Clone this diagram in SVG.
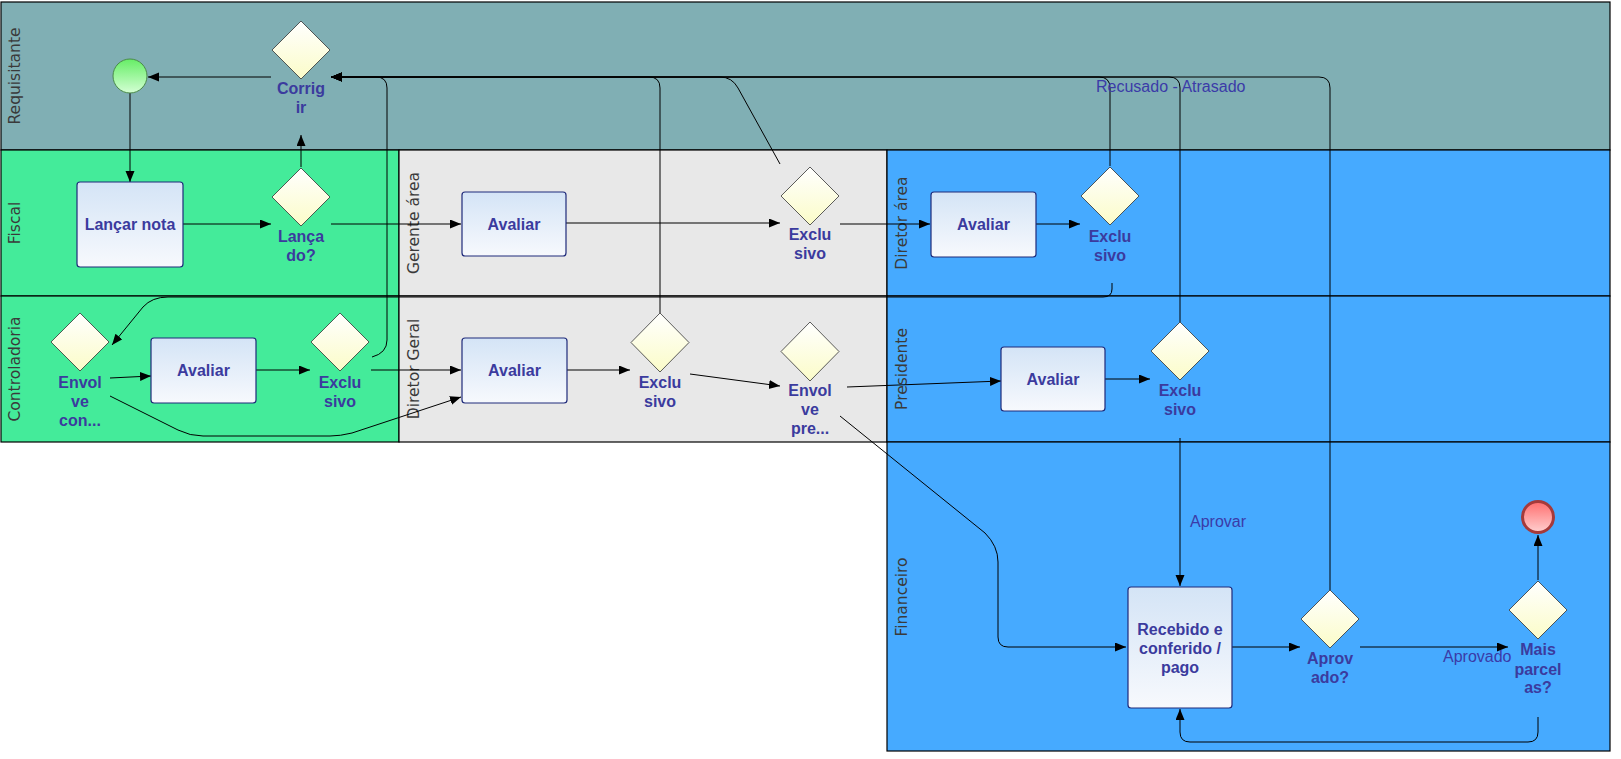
<svg xmlns="http://www.w3.org/2000/svg" width="1621" height="759" viewBox="0 0 1621 759">
  <style>
    .lane { stroke: #000; stroke-width: 1.2; }
    .lane-label { font-family: "DejaVu Sans", Verdana, sans-serif; font-size: 15.5px; fill: #3a3a3a; text-anchor: middle; }
    .task { fill: url(#taskFill); stroke: #1f2a7a; stroke-width: 1.2; }
    .gw { fill: url(#gwFill); stroke: #333; stroke-width: 0.8; }
    .node-label { font-family: "Liberation Sans", Arial, sans-serif; font-size: 16px; font-weight: bold; fill: #3b3b9e; text-anchor: middle; }
    .flow { fill: none; stroke: #000; stroke-width: 1; }
    .flow-label { font-family: "Liberation Sans", Arial, sans-serif; font-size: 16px; fill: #3b3ba8; }
  </style>
  <defs>
    <linearGradient id="taskFill" x1="0" y1="0" x2="0" y2="1">
      <stop offset="0" stop-color="#d4e4f6"/>
      <stop offset="1" stop-color="#f7f9fd"/>
    </linearGradient>
    <linearGradient id="gwFill" x1="0" y1="0" x2="0" y2="1">
      <stop offset="0" stop-color="#ffffff"/>
      <stop offset="1" stop-color="#fbfcc8"/>
    </linearGradient>
    <linearGradient id="startFill" x1="0" y1="0" x2="0" y2="1">
      <stop offset="0" stop-color="#66ee66"/>
      <stop offset="1" stop-color="#d4ffd4"/>
    </linearGradient>
    <linearGradient id="endFill" x1="0" y1="0" x2="0" y2="1">
      <stop offset="0" stop-color="#ff6e6e"/>
      <stop offset="1" stop-color="#ffd0d0"/>
    </linearGradient>
    <marker id="arrow" markerUnits="userSpaceOnUse" markerWidth="12" markerHeight="10" refX="11" refY="4.5" orient="auto">
      <path d="M0,0 L11,4.5 L0,9 z" fill="#000"/>
    </marker>
  </defs>

  <!-- swimlanes -->
  <g id="lanes">
    <g id="lane-requisitante">
      <rect class="lane" x="1" y="2" width="1609" height="148" fill="#80afb4"/>
      <text class="lane-label" transform="translate(20,76) rotate(-90)">Requisitante</text>
    </g>
    <g id="lane-fiscal">
      <rect class="lane" x="1" y="150" width="398" height="146" fill="#44eb9a"/>
      <text class="lane-label" transform="translate(20,223) rotate(-90)">Fiscal</text>
    </g>
    <g id="lane-gerente">
      <rect class="lane" x="399" y="150" width="488" height="146" fill="#e8e8e8"/>
      <text class="lane-label" transform="translate(419,223) rotate(-90)">Gerente área</text>
    </g>
    <g id="lane-diretor-area">
      <rect class="lane" x="887" y="150" width="723" height="146" fill="#46aaff"/>
      <text class="lane-label" transform="translate(907,223) rotate(-90)">Diretor área</text>
    </g>
    <g id="lane-controladoria">
      <rect class="lane" x="1" y="296" width="398" height="146" fill="#44eb9a"/>
      <text class="lane-label" transform="translate(20,369) rotate(-90)">Controladoria</text>
    </g>
    <g id="lane-diretor-geral">
      <rect class="lane" x="399" y="296" width="488" height="146" fill="#e8e8e8"/>
      <text class="lane-label" transform="translate(419,369) rotate(-90)">Diretor Geral</text>
    </g>
    <g id="lane-presidente">
      <rect class="lane" x="887" y="296" width="723" height="146" fill="#46aaff"/>
      <text class="lane-label" transform="translate(907,369) rotate(-90)">Presidente</text>
    </g>
    <g id="lane-financeiro">
      <rect class="lane" x="887" y="442" width="723" height="309" fill="#46aaff"/>
      <text class="lane-label" transform="translate(907,597) rotate(-90)">Financeiro</text>
    </g>
  </g>

  <!-- sequence flows -->
  <g id="connectors">
    <path class="flow" d="M130,93 L130,182" marker-end="url(#arrow)"/>
    <path class="flow" d="M271,77 L148,77" marker-end="url(#arrow)"/>
    <path class="flow" d="M183,224 L271,224" marker-end="url(#arrow)"/>
    <path class="flow" d="M301,167 L301,135" marker-end="url(#arrow)"/>
    <path class="flow" d="M331,224 L461,224" marker-end="url(#arrow)"/>
    <path class="flow" d="M566,223 L780,223" marker-end="url(#arrow)"/>
    <path class="flow" d="M780,164 L738,88 Q732,77 720,77 L331,77" marker-end="url(#arrow)"/>
    <path class="flow" d="M840,224 L930,224" marker-end="url(#arrow)"/>
    <path class="flow" d="M1036,224 L1080,224" marker-end="url(#arrow)"/>
    <path class="flow" d="M1110,166 L1110,88 Q1110,77 1099,77 L331,77" marker-end="url(#arrow)"/>
    <path class="flow" d="M1112,283 L1112,289 Q1112,297 1103,297 L168,297 Q152,297 143,307 L112,345" marker-end="url(#arrow)"/>
    <path class="flow" d="M110,378 L151,376" marker-end="url(#arrow)"/>
    <path class="flow" d="M110,396 L178,430 Q190,436 203,436 L330,436 Q340,436 352,433 L461,397" marker-end="url(#arrow)"/>
    <path class="flow" d="M256,370 L310,370" marker-end="url(#arrow)"/>
    <path class="flow" d="M372,357 Q387,353 387,340 L387,88 Q387,77 376,77 L331,77" marker-end="url(#arrow)"/>
    <path class="flow" d="M371,370 L461,370" marker-end="url(#arrow)"/>
    <path class="flow" d="M567,370 L630,370" marker-end="url(#arrow)"/>
    <path class="flow" d="M660,313 L660,88 Q660,77 649,77 L331,77" marker-end="url(#arrow)"/>
    <path class="flow" d="M690,374 L780,386" marker-end="url(#arrow)"/>
    <path class="flow" d="M847,387 L1001,381" marker-end="url(#arrow)"/>
    <path class="flow" d="M840,416 L985,533 Q998,546 998,562 L998,637 Q998,647 1008,647 L1126,647" marker-end="url(#arrow)"/>
    <path class="flow" d="M1105,379 L1150,379" marker-end="url(#arrow)"/>
    <path class="flow" d="M1180,322 L1180,88 Q1180,77 1169,77 L331,77" marker-end="url(#arrow)"/>
    <path class="flow" d="M1180,438 L1180,586" marker-end="url(#arrow)"/>
    <text class="flow-label" x="1190" y="527">Aprovar</text>
    <path class="flow" d="M1232,647 L1300,647" marker-end="url(#arrow)"/>
    <path class="flow" d="M1330,590 L1330,88 Q1330,77 1319,77 L331,77" marker-end="url(#arrow)"/>
    <text class="flow-label" x="1096" y="92">Recusado - Atrasado</text>
    <path class="flow" d="M1360,647 L1508,647" marker-end="url(#arrow)"/>
    <text class="flow-label" x="1443" y="662">Aprovado</text>
    <path class="flow" d="M1538,580 L1538,535" marker-end="url(#arrow)"/>
    <path class="flow" d="M1538,717 L1538,732 Q1538,742 1528,742 L1190,742 Q1180,742 1180,732 L1180,709" marker-end="url(#arrow)"/>
  </g>

  <!-- events -->
  <g id="start">
    <circle cx="130" cy="76" r="17" fill="url(#startFill)" stroke="#4a8a4a" stroke-width="1"/>
  </g>
  <g id="end">
    <circle cx="1538" cy="517" r="15.5" fill="url(#endFill)" stroke="#a63a3a" stroke-width="3"/>
  </g>

  <!-- tasks -->
  <g id="lancar-nota">
    <rect class="task" x="77" y="182" width="106" height="85" rx="3"/>
    <text class="node-label" x="130" y="230">Lançar nota</text>
  </g>
  <g id="avaliar-gerente">
    <rect class="task" x="462" y="192" width="104" height="64" rx="3"/>
    <text class="node-label" x="514" y="230">Avaliar</text>
  </g>
  <g id="avaliar-diretor-area">
    <rect class="task" x="931" y="192" width="105" height="65" rx="3"/>
    <text class="node-label" x="983.5" y="230">Avaliar</text>
  </g>
  <g id="avaliar-controladoria">
    <rect class="task" x="151" y="338" width="105" height="65" rx="3"/>
    <text class="node-label" x="203.5" y="376">Avaliar</text>
  </g>
  <g id="avaliar-diretor-geral">
    <rect class="task" x="462" y="338" width="105" height="65" rx="3"/>
    <text class="node-label" x="514.5" y="376">Avaliar</text>
  </g>
  <g id="avaliar-presidente">
    <rect class="task" x="1001" y="347" width="104" height="64" rx="3"/>
    <text class="node-label" x="1053" y="385">Avaliar</text>
  </g>
  <g id="recebido">
    <rect class="task" x="1128" y="587" width="104" height="121" rx="3"/>
    <text class="node-label" x="1180" y="635">Recebido e</text>
    <text class="node-label" x="1180" y="654">conferido /</text>
    <text class="node-label" x="1180" y="673">pago</text>
  </g>

  <!-- gateways -->
  <g id="gw-corrigir">
    <path class="gw" d="M301,21 L330,50 L301,79 L272,50 z"/>
    <text class="node-label" x="301" y="94">Corrig</text>
    <text class="node-label" x="301" y="113">ir</text>
  </g>
  <g id="gw-lancado">
    <path class="gw" d="M301,168 L330,197 L301,226 L272,197 z"/>
    <text class="node-label" x="301" y="242">Lança</text>
    <text class="node-label" x="301" y="261">do?</text>
  </g>
  <g id="gw-exclusivo-gerente">
    <path class="gw" d="M810,167 L839,196 L810,225 L781,196 z"/>
    <text class="node-label" x="810" y="240">Exclu</text>
    <text class="node-label" x="810" y="259">sivo</text>
  </g>
  <g id="gw-exclusivo-diretor-area">
    <path class="gw" d="M1110,167 L1139,196 L1110,225 L1081,196 z"/>
    <text class="node-label" x="1110" y="242">Exclu</text>
    <text class="node-label" x="1110" y="261">sivo</text>
  </g>
  <g id="gw-envolve-con">
    <path class="gw" d="M80,313 L109,342 L80,371 L51,342 z"/>
    <text class="node-label" x="80" y="388">Envol</text>
    <text class="node-label" x="80" y="407">ve</text>
    <text class="node-label" x="80" y="426">con...</text>
  </g>
  <g id="gw-exclusivo-controladoria">
    <path class="gw" d="M340,313 L369,342 L340,371 L311,342 z"/>
    <text class="node-label" x="340" y="388">Exclu</text>
    <text class="node-label" x="340" y="407">sivo</text>
  </g>
  <g id="gw-exclusivo-diretor-geral">
    <path class="gw" d="M660,313 L689,342.5 L660,372 L631,342.5 z"/>
    <text class="node-label" x="660" y="388">Exclu</text>
    <text class="node-label" x="660" y="407">sivo</text>
  </g>
  <g id="gw-envolve-pre">
    <path class="gw" d="M810,322 L839,351.5 L810,381 L781,351.5 z"/>
    <text class="node-label" x="810" y="396">Envol</text>
    <text class="node-label" x="810" y="415">ve</text>
    <text class="node-label" x="810" y="434">pre...</text>
  </g>
  <g id="gw-exclusivo-presidente">
    <path class="gw" d="M1180,322 L1209,351 L1180,380 L1151,351 z"/>
    <text class="node-label" x="1180" y="396">Exclu</text>
    <text class="node-label" x="1180" y="415">sivo</text>
  </g>
  <g id="gw-aprovado">
    <path class="gw" d="M1330,590 L1359,619 L1330,648 L1301,619 z"/>
    <text class="node-label" x="1330" y="664">Aprov</text>
    <text class="node-label" x="1330" y="683">ado?</text>
  </g>
  <g id="gw-mais-parcelas">
    <path class="gw" d="M1538,581 L1567,610 L1538,639 L1509,610 z"/>
    <text class="node-label" x="1538" y="655">Mais</text>
    <text class="node-label" x="1538" y="675">parcel</text>
    <text class="node-label" x="1538" y="693">as?</text>
  </g>
</svg>
